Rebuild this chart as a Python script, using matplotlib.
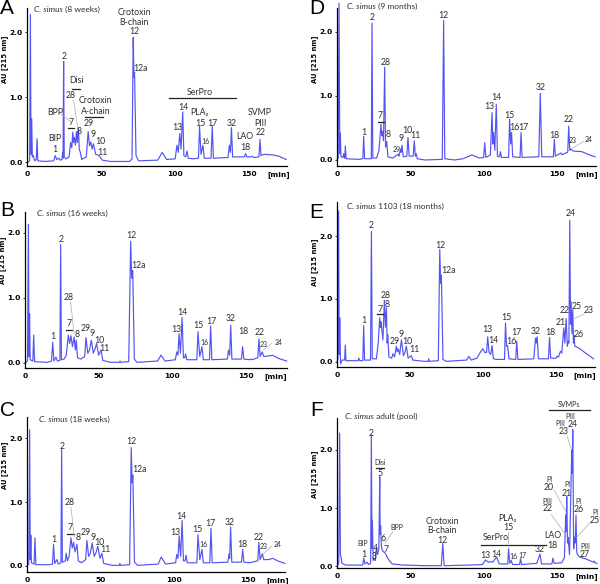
import matplotlib.pyplot as plt

plt.rcParams['font.family'] = ['Lato', 'DejaVu Sans']

# chromatogram traces, (time [min], AU at 215 nm)
trace_a = [(0, 0.0), (1.3, 0.02), (1.8, 2.27), (2.2, 0.12), (2.7, 0.67), (3.1, 0.08), (3.8, 0.1), (4.6, 0.02),
           (5.8, 0.04), (6.3, 0.36), (6.8, 0.02), (12, 0.01), (17.6, 0.02), (18.6, 0.1), (19.6, 0.04), (21, 0.06),
           (22, 0.03), (23.2, 0.04), (23.6, 0.15), (23.9, 0.06), (24.3, 1.55), (24.7, 0.08), (26, 0.05), (28, 0.08),
           (29, 0.3), (29.8, 0.22), (30.5, 0.46), (31, 0.3), (31.6, 0.38), (32.3, 0.26), (33, 0.47), (33.6, 0.3),
           (34.3, 0.52), (34.9, 0.2), (35.6, 0.15), (36.6, 0.04), (39.6, 0.08), (40.9, 0.47), (41.8, 0.25),
           (42.7, 0.31), (43.6, 0.2), (44.5, 0.28), (46, 0.12), (48.3, 0.1), (50.5, 0.03), (56, 0.01), (69, 0.01),
           (70.6, 0.05), (71.4, 1.92), (71.9, 1.3), (72.3, 1.38), (73.3, 0.1), (75, 0.02), (88, 0.03), (91, 0.15),
           (94, 0.04), (99.8, 0.05), (101, 0.26), (101.9, 0.15), (102.9, 0.44), (103.8, 0.2), (104.9, 0.77),
           (105.7, 0.1), (107, 0.08), (107.8, 0.17), (108.6, 0.06), (112, 0.05), (115.6, 0.06), (116.3, 0.55),
           (117.3, 0.12), (118.6, 0.26), (119.5, 0.06), (124.1, 0.06), (124.9, 0.56), (125.7, 0.06), (135.6, 0.07),
           (136.5, 0.26), (137.2, 0.15), (137.9, 0.53), (138.7, 0.08), (146.7, 0.08), (147.5, 0.13), (148.3, 0.08),
           (151.2, 0.08), (152, 0.09), (153, 0.07), (156.5, 0.08), (157.2, 0.35), (157.9, 0.1), (160, 0.12),
           (166, 0.11), (170, 0.09), (175, 0.04)]

trace_b = [(0, 0.0), (1.7, 0.03), (2.3, 2.13), (2.7, 0.1), (3.1, 0.76), (3.5, 0.05), (5.3, 0.03), (5.9, 0.43),
           (6.5, 0.02), (15, 0.01), (18, 0.03), (18.8, 0.32), (19.6, 0.03), (21, 0.09), (22, 0.03), (23.7, 0.04),
           (24.2, 1.82), (24.7, 0.05), (26.5, 0.06), (28, 0.12), (29.4, 0.43), (30.3, 0.3), (31.2, 0.42),
           (32.2, 0.25), (33.3, 0.4), (34.2, 0.2), (34.8, 0.35), (35.6, 0.08), (38, 0.06), (40.5, 0.1), (41.4, 0.39),
           (42.6, 0.15), (43.8, 0.2), (45, 0.35), (46.4, 0.15), (47.6, 0.22), (48.6, 0.3), (50, 0.12), (51.6, 0.2),
           (52.8, 0.04), (58, 0.01), (64, 0.01), (64.5, 0.03), (65, 0.01), (70.4, 0.02), (71.7, 1.87), (72.4, 1.3),
           (73.1, 1.42), (74.2, 0.06), (76, 0.01), (90, 0.03), (92.3, 0.12), (95, 0.03), (102, 0.05), (103, 0.17),
           (103.8, 0.12), (104.5, 0.45), (105.5, 0.15), (106.6, 0.7), (107.5, 0.08), (108.3, 0.08), (109, 0.14),
           (109.8, 0.05), (116.6, 0.05), (117.4, 0.48), (118.6, 0.1), (120.1, 0.25), (121, 0.05), (125.2, 0.05),
           (126, 0.57), (126.8, 0.05), (137.3, 0.06), (138.2, 0.2), (138.9, 0.12), (139.6, 0.58), (140.4, 0.06),
           (146.9, 0.06), (147.7, 0.25), (148.5, 0.06), (152, 0.05), (153, 0.06), (154, 0.05), (158, 0.08),
           (158.8, 0.37), (159.6, 0.1), (161, 0.17), (162, 0.1), (166, 0.11), (168, 0.12), (172, 0.07),
           (177.6, 0.03)]

trace_c = [(0, 0.0), (1.2, 0.03), (1.8, 2.13), (2.2, 0.1), (2.6, 0.48), (3, 0.05), (4.8, 0.03), (5.4, 0.44),
           (6, 0.02), (15, 0.02), (17.3, 0.03), (18, 0.34), (18.8, 0.04), (20.3, 0.1), (21.2, 0.03), (23, 0.05),
           (23.5, 1.82), (24, 0.06), (26, 0.08), (26.6, 0.2), (27.4, 0.08), (28.6, 0.15), (29.8, 0.44), (30.7, 0.28),
           (31.6, 0.37), (32.6, 0.22), (33.9, 0.34), (34.8, 0.08), (37, 0.05), (39.8, 0.1), (40.6, 0.4), (41.8, 0.15),
           (43, 0.2), (44.2, 0.36), (45.6, 0.15), (47, 0.22), (48, 0.31), (49.5, 0.12), (50.8, 0.2), (52, 0.04),
           (58, 0.01), (62.5, 0.01), (63, 0.04), (63.5, 0.01), (69.6, 0.02), (70.7, 1.85), (71.3, 1.3), (71.8, 1.42),
           (72.9, 0.06), (75, 0.01), (89, 0.03), (91, 0.14), (94, 0.03), (100.8, 0.05), (101.6, 0.18), (102.4, 0.12),
           (103.2, 0.47), (104.2, 0.15), (105.2, 0.71), (106.1, 0.08), (107.2, 0.08), (107.9, 0.17), (108.7, 0.05),
           (115.2, 0.05), (116, 0.49), (117.2, 0.1), (118.7, 0.26), (119.6, 0.05), (124, 0.05), (124.8, 0.59),
           (125.6, 0.05), (136.2, 0.06), (137, 0.19), (137.5, 0.12), (138.1, 0.61), (138.9, 0.06), (145.5, 0.06),
           (146.3, 0.26), (147.1, 0.06), (151, 0.05), (156.5, 0.08), (157.3, 0.37), (158.1, 0.1), (159.6, 0.19),
           (160.6, 0.1), (164, 0.1), (166.6, 0.12), (170, 0.08), (175, 0.04)]

trace_d = [(0, 0.0), (0.8, 0.03), (1.4, 2.45), (1.9, 0.1), (2.3, 0.42), (2.7, 0.05), (4, 0.04), (4.6, 0.1),
           (5, 0.03), (5.3, 0.03), (5.7, 0.22), (6.2, 0.02), (15, 0.01), (17.6, 0.02), (18.2, 0.37), (18.8, 0.02),
           (23.4, 0.02), (23.9, 2.14), (24.4, 0.03), (27, 0.03), (28.6, 0.15), (30, 0.56), (30.5, 0.38), (31.1, 0.45),
           (31.7, 0.3), (32.5, 1.45), (33.1, 0.2), (33.9, 0.29), (34.7, 0.05), (38, 0.03), (41.6, 0.09), (42.3, 0.06),
           (43.2, 0.17), (43.7, 0.12), (44.3, 0.23), (45.2, 0.05), (47.6, 0.06), (48.4, 0.35), (49.2, 0.06),
           (51.9, 0.06), (52.7, 0.3), (53.4, 0.06), (54, 0.1), (54.7, 0.02), (60, 0.0), (71.8, 0.01), (72.7, 2.18),
           (73.5, 0.02), (80, 0.0), (86, 0.02), (92, 0.08), (97, 0.03), (100, 0.04), (100.7, 0.27), (101.5, 0.04),
           (104.6, 0.08), (105.7, 0.74), (106.3, 0.25), (106.8, 0.43), (107.6, 0.15), (108.6, 0.87), (109.4, 0.06),
           (110.8, 0.05), (111.4, 0.13), (112.2, 0.04), (117, 0.04), (117.7, 0.64), (118.4, 0.25), (119, 0.43),
           (119.8, 0.05), (124.8, 0.04), (125.5, 0.43), (126.2, 0.04), (137.6, 0.05), (138.6, 1.04), (139.6, 0.05),
           (147.5, 0.05), (148.2, 0.32), (148.9, 0.06), (152, 0.1), (152.7, 0.11), (153.5, 0.08), (155, 0.1),
           (157.3, 0.12), (158, 0.53), (158.7, 0.15), (159.5, 0.17), (161, 0.14), (167, 0.13), (172, 0.08),
           (176, 0.05)]

trace_e = [(0, 0.0), (0.6, 0.05), (1.1, 2.4), (1.5, 0.12), (1.9, 0.7), (2.4, -0.03), (3.5, 0.03), (5.2, 0.03),
           (5.7, 0.27), (6.2, 0.02), (14.4, 0.02), (15, 0.06), (15.6, 0.02), (17.7, 0.02), (18.3, 0.58), (18.9, 0.03),
           (23, 0.03), (23.6, 2.07), (24.2, 0.05), (27, 0.05), (28.3, 0.3), (29.3, 0.7), (29.8, 0.55), (30.2, 0.64),
           (31.5, 0.35), (32.5, 0.98), (33.2, 0.55), (33.9, 0.86), (34.4, 0.3), (34.8, 0.43), (35.6, 0.08),
           (37.5, 0.06), (38.4, 0.13), (39.5, 0.08), (40.7, 0.25), (41.3, 0.16), (41.9, 0.21), (43, 0.12),
           (44.2, 0.35), (45.6, 0.1), (46.6, 0.15), (47.6, 0.25), (48.8, 0.06), (51, 0.1), (52, 0.03), (60, 0.01),
           (62.4, 0.01), (62.9, 0.05), (63.4, 0.01), (69.5, 0.02), (70.5, 1.79), (71.1, 1.25), (71.6, 1.38),
           (72.7, 0.04), (75, 0.01), (89, 0.03), (90.4, 0.09), (92, 0.03), (96, 0.06), (98.5, 0.16), (100, 0.21),
           (101.5, 0.15), (102.6, 0.15), (103.4, 0.4), (104.3, 0.15), (105.5, 0.12), (106.4, 0.26), (107.3, 0.05),
           (110, 0.04), (114.9, 0.04), (115.6, 0.62), (116.3, 0.25), (117, 0.26), (118, 0.05), (122.6, 0.04),
           (123.3, 0.33), (124.1, 0.04), (135, 0.05), (136.2, 0.38), (136.7, 0.3), (137.3, 0.4), (138.2, 0.05),
           (145.1, 0.05), (145.8, 0.39), (146.6, 0.06), (150.3, 0.06), (151, 0.09), (152, 0.08), (153.3, 0.17),
           (154.2, 0.14), (155.6, 0.54), (156.3, 0.3), (157.2, 0.69), (158, 0.25), (158.6, 0.33), (159.1, 0.3),
           (159.7, 2.25), (160.2, 0.6), (160.6, 0.96), (161.2, 0.45), (161.8, 0.83), (162.2, 0.3), (162.5, 0.43),
           (163.2, 0.25), (166, 0.22), (170, 0.15), (176, 0.05)]

trace_f = [(0, 0.0), (1.2, 0.05), (1.8, 2.29), (2.3, 0.2), (2.7, 0.16), (3.4, 0.05), (6, 0.02), (17.5, 0.02),
           (18.2, 0.14), (19, 0.04), (20.5, 0.07), (21.4, 0.03), (22.9, 0.05), (23.4, 2.26), (23.8, 0.3),
           (24.1, 0.79), (24.6, 0.1), (25.5, 0.13), (26.1, 0.1), (26.8, 0.33), (27.6, 0.2), (28.5, 0.3), (29.1, 1.54),
           (29.4, 0.55), (29.7, 0.7), (30.2, 0.35), (30.9, 0.27), (33, 0.22), (35, 0.12), (37.5, 0.04), (45, 0.02),
           (60, 0.01), (71, 0.01), (72, 0.39), (72.9, 0.01), (90, 0.02), (99, 0.03), (101.1, 0.11), (103, 0.07),
           (104.5, 0.08), (106, 0.07), (108.6, 0.16), (110.5, 0.04), (116.2, 0.04), (116.8, 0.3), (117.6, 0.05),
           (118.6, 0.1), (119.5, 0.03), (124.3, 0.03), (125, 0.13), (125.7, 0.03), (136, 0.05), (138.2, 0.21),
           (139.2, 0.04), (146.3, 0.04), (147, 0.14), (147.8, 0.05), (153, 0.06), (154.8, 0.15), (155.7, 0.88),
           (156, 0.6), (156.4, 1.2), (156.9, 0.4), (157.3, 0.5), (158.3, 0.2), (159.8, 2.0), (160.1, 1.6),
           (160.5, 2.35), (161.1, 0.3), (161.8, 0.5), (162.2, 0.4), (162.7, 0.88), (163.2, 0.25), (163.6, 0.21),
           (165, 0.16), (170, 0.12), (174.5, 0.07), (175, 0.09), (175.5, 0.06), (177, 0.05)]

# peak / fraction labels: (text, time, AU, small?)
labels_a = [('Crotoxin', 71.9, 2.30, 0), ('B-chain', 71.9, 2.15, 0), ('12', 71.9, 2.01, 0), ('12a', 76.4, 1.44, 0),
            ('2', 24.3, 1.62, 0), ('Disi', 33.2, 1.26, 0), ('28', 29.2, 1.02, 0), ('BPP', 18.4, 0.77, 0),
            ('7', 29.6, 0.61, 0), ('8', 35.0, 0.47, 0), ('BIP', 18.4, 0.37, 0), ('1', 18.4, 0.20, 0),
            ('Crotoxin', 46, 0.94, 0), ('A-chain', 46, 0.78, 0), ('29', 41.5, 0.59, 0), ('9', 44.3, 0.42, 0),
            ('10', 48.9, 0.31, 0), ('11', 50.2, 0.15, 0), ('SerPro', 116.8, 1.07, 0), ('14', 105, 0.84, 0),
            ('13', 101.5, 0.53, 0), ('PLA₂', 116, 0.76, 0), ('15', 116.8, 0.6, 0), ('16', 120.6, 0.32, 1),
            ('17', 125.3, 0.6, 0), ('32', 138, 0.6, 0), ('LAO', 147, 0.39, 0), ('18', 147, 0.22, 0),
            ('SVMP', 157.2, 0.76, 0), ('PIII', 157.2, 0.6, 0), ('22', 157.6, 0.45, 0)]
labels_b = [('2', 24.4, 1.89, 0), ('12', 72, 1.96, 0), ('12a', 76.9, 1.5, 0), ('28', 29.4, 1.0, 0),
            ('7', 29.9, 0.6, 0), ('8', 35.5, 0.44, 0), ('1', 18.8, 0.4, 0), ('29', 41.0, 0.53, 0),
            ('9', 45.6, 0.45, 0), ('10', 50.2, 0.34, 0), ('11', 54.0, 0.23, 0), ('13', 102.5, 0.52, 0),
            ('14', 106.6, 0.78, 0), ('15', 117.4, 0.57, 0), ('16', 121.5, 0.32, 1), ('17', 126.5, 0.64, 0),
            ('32', 139.6, 0.68, 0), ('18', 148.2, 0.48, 0), ('22', 159, 0.47, 0), ('23', 162.2, 0.29, 1),
            ('24', 172, 0.32, 1)]
labels_c = [('2', 23.9, 1.87, 0), ('12', 70.7, 1.95, 0), ('12a', 76.3, 1.51, 0), ('28', 28.7, 0.99, 0),
            ('7', 29.3, 0.6, 0), ('8', 34.5, 0.44, 0), ('1', 18, 0.42, 0), ('29', 39.8, 0.53, 0),
            ('9', 44.6, 0.45, 0), ('10', 49.2, 0.37, 0), ('11', 53, 0.26, 0), ('13', 100.9, 0.53, 0),
            ('14', 105, 0.78, 0), ('15', 115.8, 0.57, 0), ('16', 119.6, 0.33, 1), ('17', 124.2, 0.66, 0),
            ('32', 137.7, 0.68, 0), ('18', 146.3, 0.34, 0), ('22', 156.9, 0.45, 0), ('23', 160.3, 0.3, 1),
            ('24', 169.8, 0.34, 1)]
labels_d = [('2', 23.9, 2.22, 0), ('12', 72.7, 2.26, 0), ('28', 33, 1.53, 0), ('7', 29.5, 0.69, 0),
            ('8', 35.2, 0.4, 0), ('1', 18.2, 0.43, 0), ('29', 40.5, 0.17, 1), ('9', 43.9, 0.34, 0),
            ('10', 48.2, 0.46, 0), ('11', 53.6, 0.38, 0), ('13', 104, 0.83, 0), ('14', 108.6, 0.97, 0),
            ('15', 117.7, 0.7, 0), ('16', 121.0, 0.51, 0), ('17', 127.3, 0.51, 0), ('32', 139, 1.13, 0),
            ('18', 148.2, 0.39, 0), ('22', 158, 0.64, 0), ('23', 161, 0.31, 1), ('24', 171.6, 0.32, 1)]
labels_e = [('24', 160.2, 2.35, 0), ('2', 23.6, 2.17, 0), ('12', 70.9, 1.85, 0), ('12a', 76.2, 1.46, 0),
            ('28', 33.2, 1.06, 0), ('8', 34.3, 0.92, 0), ('7', 29.7, 0.84, 0), ('1', 18.3, 0.66, 0),
            ('29', 39.6, 0.33, 0), ('9', 43.9, 0.43, 0), ('10', 48.2, 0.33, 0), ('11', 52.8, 0.2, 0),
            ('13', 103.4, 0.51, 0), ('14', 107.6, 0.34, 0), ('15', 116, 0.71, 0), ('16', 119.5, 0.33, 0),
            ('17', 123.1, 0.47, 0), ('32', 136.6, 0.49, 0), ('18', 146, 0.47, 0), ('21', 153.3, 0.63, 0),
            ('22', 156.3, 0.81, 0), ('25', 164.3, 0.88, 0), ('23', 172.8, 0.81, 0), ('26', 165.9, 0.43, 0)]
labels_f = [('SVMPs', 158, 2.78, 1), ('PIII', 159, 2.58, 1), ('24', 160.7, 2.43, 0), ('PIII', 152.3, 2.46, 1),
            ('23', 154, 2.32, 0), ('2', 23.4, 2.29, 0), ('Disi', 29.1, 1.78, 1), ('5', 29.1, 1.6, 0),
            ('PI', 144.3, 1.49, 1), ('20', 144.3, 1.35, 0), ('PI', 156.6, 1.41, 1), ('21', 156.6, 1.26, 0),
            ('PIII', 143.2, 1.12, 1), ('22', 143.6, 0.99, 0), ('PI', 164.3, 1.12, 1), ('26', 164.3, 0.97, 0),
            ('PI', 176.1, 0.93, 1), ('25', 175.5, 0.79, 0), ('PIII', 168.9, 0.34, 1), ('27', 168.9, 0.2, 0),
            ('BIP', 17.7, 0.39, 1), ('1', 18.2, 0.21, 0), ('4', 26.1, 0.3, 0), ('3', 25.5, 0.17, 0),
            ('6', 31.4, 0.48, 0), ('7', 33.6, 0.28, 0), ('BPP', 40.9, 0.67, 1), ('Crotoxin', 71.6, 0.77, 0),
            ('B-chain', 71.6, 0.62, 0), ('12', 71.6, 0.44, 0), ('PLA₂', 115.9, 0.82, 0), ('15', 116.4, 0.67, 0),
            ('SerPro', 108, 0.5, 0), ('13', 101.1, 0.18, 0), ('14', 108.6, 0.21, 0), ('16', 120, 0.17, 1),
            ('17', 126, 0.18, 1), ('32', 138.2, 0.28, 0), ('LAO', 146.6, 0.53, 0), ('18', 146.6, 0.36, 0)]

# horizontal bars over peak groups: (t start, t end, AU)
bars_a = [(30.1, 35.5, 1.12), (27.4, 31.0, 0.52), (38.6, 51, 0.69), (95.9, 141, 0.99)]
bars_b = [(27.6, 32.1, 0.5)]
bars_c = [(27.1, 31.6, 0.5)]
bars_d = [(27.7, 31.8, 0.6)]
bars_e = [(27.5, 31.4, 0.76)]
bars_f = [(26.8, 32.3, 1.69), (97.7, 142, 0.37), (144.3, 172.3, 2.69)]

# thin leader lines from labels to peaks
leaders_a = [((31.0, 0.95), (34.1, 0.49)), ((22.5, 0.74), (29.2, 0.62))]
leaders_b = [((31.0, 0.93), (33.3, 0.45)), ((167.4, 0.3), (161.8, 0.2))]
leaders_c = [((29.8, 0.92), (32.1, 0.45)), ((165.9, 0.31), (160.3, 0.19))]
leaders_d = [((168.2, 0.29), (160.2, 0.18))]
leaders_e = [((170, 0.77), (163, 0.69))]
leaders_f = [((156.8, 2.23), (159.5, 2.01)), ((147.7, 1.31), (156.1, 0.93)), ((145.9, 0.89), (156.8, 0.5)),
             ((172.7, 0.76), (163.2, 0.5)), ((38.2, 0.6), (33, 0.41)), ((116.4, 0.59), (116.4, 0.33))]

W, H = 600, 584
fig = plt.figure(figsize=(6.0, 5.84), dpi=100)

# letter, species part, rest of title, axes box in pixels (l, t, r, b), xlim, ylim, title pos, letter pos
panels = [
    ('A', 'C. simus', ' (8 weeks)', (27, 8, 287, 166), (-0.5, 175.5), (-0.06, 2.37), (4.5, 2.35), (0, 9),
     trace_a, labels_a, bars_a, leaders_a),
    ('B', 'C. simus', ' (16 weeks)', (25, 212, 287, 368), (0, 177.8), (-0.077, 2.32), (7.9, 2.29), (0, 210),
     trace_b, labels_b, bars_b, leaders_b),
    ('C', 'C. simus', ' (18 weeks)', (27, 417, 285, 572), (0, 175), (-0.094, 2.33), (7.9, 2.29), (0, 410),
     trace_c, labels_c, bars_c, leaders_c),
    ('D', 'C. simus', ' (9 months)', (337, 8, 596, 166), (0, 176.6), (-0.094, 2.375), (6.8, 2.4), (309, 9),
     trace_d, labels_d, bars_d, leaders_d),
    ('E', 'C. simus', ' 1103 (18 months)', (337, 202, 595, 367), (0, 177), (-0.08, 2.54), (6.9, 2.47), (309, 212),
     trace_e, labels_e, bars_e, leaders_e),
    ('F', 'C. simus', ' adult (pool)', (337, 418, 597, 568), (0, 177), (-0.03, 2.55), (5.7, 2.58), (310, 411),
     trace_f, labels_f, bars_f, leaders_f),
]

line_col = '#5454f2'
txt_col = '#2e2e2e'

for (letter, sp, rest, box, xl, yl, tpos, lpos, trace, labels, bars, leaders) in panels:
    l, t, r, b = box
    ax = fig.add_axes([l / W, (H - b) / H, (r - l) / W, (b - t) / H])
    ax.set_xlim(*xl)
    ax.set_ylim(*yl)
    for s in ['top', 'right']:
        ax.spines[s].set_visible(False)
    for s in ['left', 'bottom']:
        ax.spines[s].set_linewidth(0.9)
    ax.set_xticks([0, 50, 100, 150])
    ax.set_yticks([0.0, 1.0, 2.0])
    ax.set_yticklabels(['0.0', '1.0', '2.0'])
    ax.tick_params(axis='x', length=0, pad=3.5, labelsize=5.4)
    ax.tick_params(axis='y', length=1.5, width=0.6, pad=1.5, labelsize=5.4)
    for lab in ax.get_xticklabels() + ax.get_yticklabels():
        lab.set_fontweight('bold')
        lab.set_family('DejaVu Sans')
    ax.annotate('[min]', xy=(170, 0), xycoords=('data', 'axes fraction'), xytext=(0, -3.5),
                textcoords='offset points', ha='center', va='top', fontsize=5.4, fontweight='bold',
                family='DejaVu Sans')
    ax.text(-22 / (r - l), 1.58, 'AU [215 nm]', transform=ax.get_yaxis_transform(), rotation=90,
            ha='center', va='center', fontsize=4.9, fontweight='bold', family='DejaVu Sans')

    tt, au = zip(*trace)
    ax.plot(tt, au, color=line_col, lw=0.85, clip_on=False)

    for (x0, x1, y) in bars:
        ax.plot([x0, x1], [y, y], color='#222222', lw=0.9, clip_on=False)
    for (p0, p1) in leaders:
        ax.plot([p0[0], p1[0]], [p0[1], p1[1]], color='#aaaaaa', lw=0.5, clip_on=False)
    for (txt, x, y, small) in labels:
        ax.text(x, y, txt, ha='center', va='center', color=txt_col, fontsize=5.0 if small else 6.3)

    ti = ax.text(tpos[0], tpos[1], sp, ha='left', va='center', fontsize=6.0, style='italic', color=txt_col)
    ax.annotate(rest, xy=(1, 0), xycoords=ti, ha='left', va='bottom', fontsize=6.0, color=txt_col)

    fig.text(lpos[0] / W, (H - lpos[1]) / H, letter, ha='left', va='center', fontsize=15,
             family='Liberation Sans')

fig.savefig('out.png', dpi=100)
